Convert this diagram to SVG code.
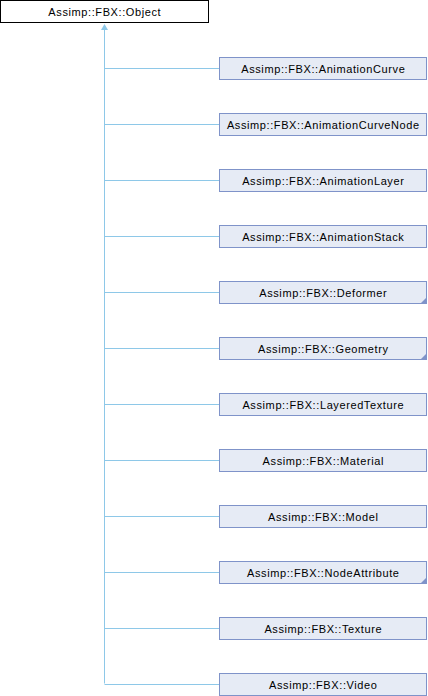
<svg xmlns="http://www.w3.org/2000/svg" width="428" height="696" viewBox="0 0 428 696">
<style>
.b{fill:#E6EBF5;stroke:#7F93C9;stroke-width:1}
.r{fill:#fff;stroke:#000;stroke-width:1}
.t{font-family:"Liberation Sans",Arial,sans-serif;font-size:11px;letter-spacing:0.6px;fill:#000;text-anchor:middle}
.c{fill:none;stroke:#8EC8E8;stroke-width:1}
.tri{fill:#7F93C9}
</style>
<rect width="428" height="696" fill="#fff"/>
<g id="connectors">
<path class="c" d="M104.5 30V683.5"/>
<polygon points="104.5,24 108,30 101,30" fill="#8EC8E8"/>
<path class="c" d="M104.5 68.5H219M104.5 124.5H219M104.5 180.5H219M104.5 236.5H219M104.5 292.5H219M104.5 348.5H219M104.5 404.5H219M104.5 460.5H219M104.5 516.5H219M104.5 572.5H219M104.5 628.5H219M104.5 684.5H219"/>
</g>
<g id="Object"><rect class="r" x="0.5" y="0.5" width="208" height="22"/><text class="t" x="104.8" y="16">Assimp::FBX::Object</text></g>
<g id="AnimationCurve"><rect class="b" x="219.5" y="57.5" width="207" height="22"/><text class="t" x="323.3" y="72.5">Assimp::FBX::AnimationCurve</text></g>
<g id="AnimationCurveNode"><rect class="b" x="219.5" y="113.5" width="207" height="22"/><text class="t" x="323.3" y="128.5">Assimp::FBX::AnimationCurveNode</text></g>
<g id="AnimationLayer"><rect class="b" x="219.5" y="169.5" width="207" height="22"/><text class="t" x="323.3" y="184.5">Assimp::FBX::AnimationLayer</text></g>
<g id="AnimationStack"><rect class="b" x="219.5" y="225.5" width="207" height="22"/><text class="t" x="323.3" y="240.5">Assimp::FBX::AnimationStack</text></g>
<g id="Deformer"><rect class="b" x="219.5" y="281.5" width="207" height="22"/><polygon class="tri" points="427,297 427,304 420,304"/><text class="t" x="323.3" y="296.5">Assimp::FBX::Deformer</text></g>
<g id="Geometry"><rect class="b" x="219.5" y="337.5" width="207" height="22"/><polygon class="tri" points="427,353 427,360 420,360"/><text class="t" x="323.3" y="352.5">Assimp::FBX::Geometry</text></g>
<g id="LayeredTexture"><rect class="b" x="219.5" y="393.5" width="207" height="22"/><text class="t" x="323.3" y="408.5">Assimp::FBX::LayeredTexture</text></g>
<g id="Material"><rect class="b" x="219.5" y="449.5" width="207" height="22"/><text class="t" x="323.3" y="464.5">Assimp::FBX::Material</text></g>
<g id="Model"><rect class="b" x="219.5" y="505.5" width="207" height="22"/><text class="t" x="323.3" y="520.5">Assimp::FBX::Model</text></g>
<g id="NodeAttribute"><rect class="b" x="219.5" y="561.5" width="207" height="22"/><polygon class="tri" points="427,577 427,584 420,584"/><text class="t" x="323.3" y="576.5">Assimp::FBX::NodeAttribute</text></g>
<g id="Texture"><rect class="b" x="219.5" y="617.5" width="207" height="22"/><text class="t" x="323.3" y="632.5">Assimp::FBX::Texture</text></g>
<g id="Video"><rect class="b" x="219.5" y="673.5" width="207" height="22"/><text class="t" x="323.3" y="688.5">Assimp::FBX::Video</text></g>
</svg>
